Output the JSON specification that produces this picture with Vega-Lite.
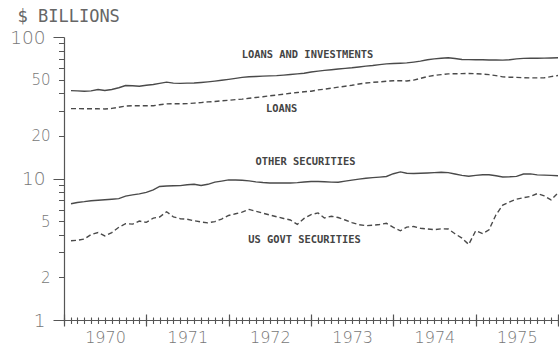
{
  "$schema": "https://vega.github.io/schema/vega-lite/v6.json",
  "width": 494,
  "height": 283,
  "autosize": "none",
  "padding": {"left": 64, "top": 37, "right": 1, "bottom": 27},
  "background": "white",
  "config": {"view": {"stroke": null}, "axis": {"grid": false}},
  "datasets": {
    "series": [
      {"date": "1970-02-01", "li": 41.8, "loans": 31.2, "other": 6.63, "govt": 3.63},
      {"date": "1970-03-01", "li": 41.6, "loans": 31.2, "other": 6.77, "govt": 3.66},
      {"date": "1970-04-01", "li": 41.4, "loans": 31.1, "other": 6.86, "govt": 3.73},
      {"date": "1970-05-01", "li": 41.6, "loans": 31.1, "other": 6.97, "govt": 4.02},
      {"date": "1970-06-01", "li": 42.5, "loans": 31.1, "other": 7.02, "govt": 4.15},
      {"date": "1970-07-01", "li": 41.9, "loans": 31.0, "other": 7.08, "govt": 3.93},
      {"date": "1970-08-01", "li": 42.6, "loans": 31.3, "other": 7.14, "govt": 4.15},
      {"date": "1970-09-01", "li": 43.8, "loans": 31.9, "other": 7.21, "govt": 4.52},
      {"date": "1970-10-01", "li": 45.4, "loans": 32.5, "other": 7.50, "govt": 4.79},
      {"date": "1970-11-01", "li": 45.2, "loans": 32.7, "other": 7.66, "govt": 4.76},
      {"date": "1970-12-01", "li": 44.9, "loans": 32.7, "other": 7.79, "govt": 5.00},
      {"date": "1971-01-01", "li": 45.6, "loans": 32.7, "other": 7.97, "govt": 4.90},
      {"date": "1971-02-01", "li": 46.2, "loans": 32.7, "other": 8.31, "govt": 5.25},
      {"date": "1971-03-01", "li": 47.0, "loans": 33.2, "other": 8.78, "govt": 5.34},
      {"date": "1971-04-01", "li": 48.0, "loans": 33.7, "other": 8.85, "govt": 5.82},
      {"date": "1971-05-01", "li": 47.2, "loans": 33.8, "other": 8.88, "govt": 5.36},
      {"date": "1971-06-01", "li": 47.0, "loans": 33.7, "other": 8.90, "govt": 5.20},
      {"date": "1971-07-01", "li": 47.2, "loans": 33.8, "other": 9.03, "govt": 5.15},
      {"date": "1971-08-01", "li": 47.3, "loans": 34.1, "other": 9.10, "govt": 5.03},
      {"date": "1971-09-01", "li": 47.7, "loans": 34.4, "other": 8.92, "govt": 4.93},
      {"date": "1971-10-01", "li": 48.2, "loans": 34.8, "other": 9.10, "govt": 4.86},
      {"date": "1971-11-01", "li": 48.8, "loans": 35.0, "other": 9.42, "govt": 4.96},
      {"date": "1971-12-01", "li": 49.5, "loans": 35.4, "other": 9.59, "govt": 5.17},
      {"date": "1972-01-01", "li": 50.2, "loans": 35.7, "other": 9.77, "govt": 5.48},
      {"date": "1972-02-01", "li": 51.0, "loans": 36.1, "other": 9.77, "govt": 5.63},
      {"date": "1972-03-01", "li": 51.8, "loans": 36.4, "other": 9.72, "govt": 5.78},
      {"date": "1972-04-01", "li": 52.4, "loans": 36.9, "other": 9.62, "govt": 6.05},
      {"date": "1972-05-01", "li": 52.6, "loans": 37.4, "other": 9.46, "govt": 5.87},
      {"date": "1972-06-01", "li": 52.9, "loans": 37.8, "other": 9.36, "govt": 5.69},
      {"date": "1972-07-01", "li": 53.1, "loans": 38.4, "other": 9.30, "govt": 5.53},
      {"date": "1972-08-01", "li": 53.3, "loans": 38.9, "other": 9.29, "govt": 5.37},
      {"date": "1972-09-01", "li": 53.8, "loans": 39.4, "other": 9.29, "govt": 5.22},
      {"date": "1972-10-01", "li": 54.3, "loans": 40.0, "other": 9.29, "govt": 5.09},
      {"date": "1972-11-01", "li": 54.9, "loans": 40.5, "other": 9.35, "govt": 4.74},
      {"date": "1972-12-01", "li": 55.5, "loans": 41.0, "other": 9.45, "govt": 5.22},
      {"date": "1973-01-01", "li": 56.6, "loans": 41.4, "other": 9.53, "govt": 5.56},
      {"date": "1973-02-01", "li": 57.4, "loans": 42.3, "other": 9.53, "govt": 5.71},
      {"date": "1973-03-01", "li": 58.1, "loans": 42.8, "other": 9.48, "govt": 5.26},
      {"date": "1973-04-01", "li": 58.7, "loans": 43.5, "other": 9.42, "govt": 5.41},
      {"date": "1973-05-01", "li": 59.4, "loans": 44.2, "other": 9.40, "govt": 5.30},
      {"date": "1973-06-01", "li": 60.0, "loans": 44.9, "other": 9.58, "govt": 5.09},
      {"date": "1973-07-01", "li": 60.6, "loans": 45.6, "other": 9.74, "govt": 4.88},
      {"date": "1973-08-01", "li": 61.4, "loans": 46.5, "other": 9.90, "govt": 4.72},
      {"date": "1973-09-01", "li": 62.2, "loans": 47.3, "other": 10.05, "govt": 4.64},
      {"date": "1973-10-01", "li": 62.9, "loans": 47.8, "other": 10.15, "govt": 4.68},
      {"date": "1973-11-01", "li": 63.8, "loans": 48.2, "other": 10.23, "govt": 4.73},
      {"date": "1973-12-01", "li": 64.6, "loans": 48.7, "other": 10.33, "govt": 4.82},
      {"date": "1974-01-01", "li": 64.9, "loans": 49.1, "other": 10.81, "govt": 4.51},
      {"date": "1974-02-01", "li": 65.2, "loans": 49.1, "other": 11.13, "govt": 4.27},
      {"date": "1974-03-01", "li": 65.6, "loans": 48.9, "other": 10.90, "govt": 4.53},
      {"date": "1974-04-01", "li": 66.5, "loans": 49.6, "other": 10.84, "govt": 4.58},
      {"date": "1974-05-01", "li": 67.5, "loans": 51.0, "other": 10.89, "govt": 4.45},
      {"date": "1974-06-01", "li": 69.1, "loans": 52.5, "other": 10.94, "govt": 4.40},
      {"date": "1974-07-01", "li": 70.0, "loans": 53.5, "other": 11.00, "govt": 4.35},
      {"date": "1974-08-01", "li": 70.7, "loans": 54.2, "other": 11.08, "govt": 4.41},
      {"date": "1974-09-01", "li": 71.3, "loans": 54.9, "other": 11.00, "govt": 4.40},
      {"date": "1974-10-01", "li": 70.5, "loans": 55.0, "other": 10.76, "govt": 4.07},
      {"date": "1974-11-01", "li": 69.3, "loans": 55.1, "other": 10.52, "govt": 3.79},
      {"date": "1974-12-01", "li": 69.2, "loans": 55.2, "other": 10.37, "govt": 3.42},
      {"date": "1975-01-01", "li": 69.1, "loans": 55.0, "other": 10.52, "govt": 4.27},
      {"date": "1975-02-01", "li": 69.0, "loans": 54.7, "other": 10.63, "govt": 4.08},
      {"date": "1975-03-01", "li": 68.8, "loans": 54.2, "other": 10.63, "govt": 4.34},
      {"date": "1975-04-01", "li": 68.7, "loans": 53.3, "other": 10.45, "govt": 5.54},
      {"date": "1975-05-01", "li": 68.6, "loans": 52.3, "other": 10.25, "govt": 6.49},
      {"date": "1975-06-01", "li": 69.1, "loans": 52.0, "other": 10.28, "govt": 6.84},
      {"date": "1975-07-01", "li": 70.1, "loans": 51.8, "other": 10.35, "govt": 7.14},
      {"date": "1975-08-01", "li": 70.6, "loans": 51.6, "other": 10.76, "govt": 7.31},
      {"date": "1975-09-01", "li": 70.7, "loans": 51.4, "other": 10.78, "govt": 7.47},
      {"date": "1975-10-01", "li": 70.8, "loans": 51.4, "other": 10.60, "govt": 7.82},
      {"date": "1975-11-01", "li": 70.9, "loans": 51.5, "other": 10.56, "govt": 7.53},
      {"date": "1975-12-01", "li": 71.1, "loans": 52.5, "other": 10.52, "govt": 7.06},
      {"date": "1976-01-01", "li": 71.3, "loans": 53.4, "other": 10.47, "govt": 7.92}
    ],
    "labels": [
      {"date": "1972-12-16", "value": 75.2, "text": "LOANS AND INVESTMENTS"},
      {"date": "1972-08-23", "value": 30.9, "text": "LOANS"},
      {"date": "1972-12-07", "value": 13.0, "text": "OTHER SECURITIES"},
      {"date": "1972-12-03", "value": 3.69, "text": "US GOVT SECURITIES"}
    ]
  },
  "resolve": {"axis": {"x": "independent", "y": "independent"}},
  "layer": [
    {
      "data": {"name": "series"},
      "mark": {"type": "line", "color": "#4a4a4a", "strokeWidth": 1.4},
      "encoding": {
        "x": {
          "field": "date", "type": "temporal",
          "scale": {"type": "utc", "domain": [{"year": 1970, "month": 1, "date": 1, "utc": true}, {"year": 1976, "month": 1, "date": 1, "utc": true}]},
          "axis": {
            "orient": "bottom",
            "values": [
              {"year": 1970, "month": 7, "date": 2, "utc": true},
              {"year": 1971, "month": 7, "date": 2, "utc": true},
              {"year": 1972, "month": 7, "date": 2, "utc": true},
              {"year": 1973, "month": 7, "date": 2, "utc": true},
              {"year": 1974, "month": 7, "date": 2, "utc": true},
              {"year": 1975, "month": 7, "date": 2, "utc": true}
            ],
            "format": "%Y", "ticks": false, "tickSize": 0, "domain": true, "domainColor": "#555", "domainWidth": 1.2,
            "labelFont": "DejaVu Sans", "labelFontSize": 16, "labelFontWeight": 200, "labelColor": "#777", "labelPadding": 9,
            "labelFlush": false, "labelOverlap": false, "labelBound": false, "title": null
          }
        },
        "y": {
          "field": "li", "type": "quantitative",
          "scale": {"type": "log", "domain": [1, 100]},
          "axis": {
            "orient": "left", "values": [1, 10, 100], "tickSize": 11, "tickColor": "#555", "tickWidth": 1,
            "domain": true, "domainColor": "#555", "domainWidth": 1.2,
            "labelFont": "DejaVu Sans", "labelFontSize": 18.5, "labelFontWeight": 200, "labelColor": "#777", "labelPadding": 8,
            "labelOverlap": false, "labelBound": false, "format": "d",
            "title": "$ BILLIONS", "titleAngle": 0, "titleAlign": "left", "titleBaseline": "alphabetic",
            "titleX": -47, "titleY": -16, "titleFont": "DejaVu Sans Mono", "titleFontSize": 17, "titleFontWeight": "normal", "titleColor": "#666"
          }
        }
      }
    },
    {
      "data": {"name": "series"},
      "mark": {"type": "line", "color": "#4a4a4a", "strokeWidth": 1.4, "strokeDash": [5, 3]},
      "encoding": {
        "x": {
          "field": "date", "type": "temporal",
          "scale": {"type": "utc", "domain": [{"year": 1970, "month": 1, "date": 1, "utc": true}, {"year": 1976, "month": 1, "date": 1, "utc": true}]},
          "axis": {
            "orient": "bottom", "domain": false, "labels": false, "ticks": true,
            "values": [
              {"year": 1970, "month": 1, "date": 1, "utc": true}, {"year": 1971, "month": 1, "date": 1, "utc": true}, {"year": 1972, "month": 1, "date": 1, "utc": true},
              {"year": 1973, "month": 1, "date": 1, "utc": true}, {"year": 1974, "month": 1, "date": 1, "utc": true}, {"year": 1975, "month": 1, "date": 1, "utc": true}, {"year": 1976, "month": 1, "date": 1, "utc": true}
            ],
            "tickSize": 12, "offset": -6, "tickColor": "#555", "tickWidth": 1.2, "title": null
          }
        },
        "y": {
          "field": "loans", "type": "quantitative",
          "scale": {"type": "log", "domain": [1, 100]},
          "axis": {
            "orient": "left", "values": [2, 3, 4, 5, 6, 7, 8, 9, 20, 30, 40, 50, 60, 70, 80, 90],
            "labelExpr": "indexof([2, 5, 20, 50], datum.value) >= 0 ? datum.label : ''",
            "tickSize": 5.5, "tickColor": "#555", "tickWidth": 1, "domain": false,
            "labelFont": "DejaVu Sans", "labelFontSize": 15, "labelFontWeight": 200, "labelColor": "#777", "labelPadding": 8.5,
            "labelOverlap": false, "labelBound": false, "format": "d", "title": null
          }
        }
      }
    },
    {
      "data": {"name": "series"},
      "mark": {"type": "line", "color": "#4a4a4a", "strokeWidth": 1.4},
      "encoding": {
        "x": {
          "field": "date", "type": "temporal",
          "scale": {"type": "utc", "domain": [{"year": 1970, "month": 1, "date": 1, "utc": true}, {"year": 1976, "month": 1, "date": 1, "utc": true}]},
          "axis": {
            "orient": "top", "domain": false, "labels": false, "ticks": true,
            "tickCount": {"interval": "month", "step": 1},
            "tickSize": 6.5, "offset": -286.5, "tickColor": "#555", "tickWidth": 1.1, "title": null
          }
        },
        "y": {"field": "other", "type": "quantitative", "scale": {"type": "log", "domain": [1, 100]}, "axis": null}
      }
    },
    {
      "data": {"name": "series"},
      "mark": {"type": "line", "color": "#4a4a4a", "strokeWidth": 1.4, "strokeDash": [5, 3]},
      "encoding": {
        "x": {
          "field": "date", "type": "temporal",
          "scale": {"type": "utc", "domain": [{"year": 1970, "month": 1, "date": 1, "utc": true}, {"year": 1976, "month": 1, "date": 1, "utc": true}]},
          "axis": null
        },
        "y": {"field": "govt", "type": "quantitative", "scale": {"type": "log", "domain": [1, 100]}, "axis": null}
      }
    },
    {
      "data": {"name": "labels"},
      "mark": {"type": "text", "font": "DejaVu Sans Mono", "fontSize": 10.4, "fontWeight": "bold", "color": "#444", "align": "center", "baseline": "middle"},
      "encoding": {
        "x": {
          "field": "date", "type": "temporal",
          "scale": {"type": "utc", "domain": [{"year": 1970, "month": 1, "date": 1, "utc": true}, {"year": 1976, "month": 1, "date": 1, "utc": true}]},
          "axis": null
        },
        "y": {"field": "value", "type": "quantitative", "scale": {"type": "log", "domain": [1, 100]}, "axis": null},
        "text": {"field": "text"}
      }
    }
  ]
}
